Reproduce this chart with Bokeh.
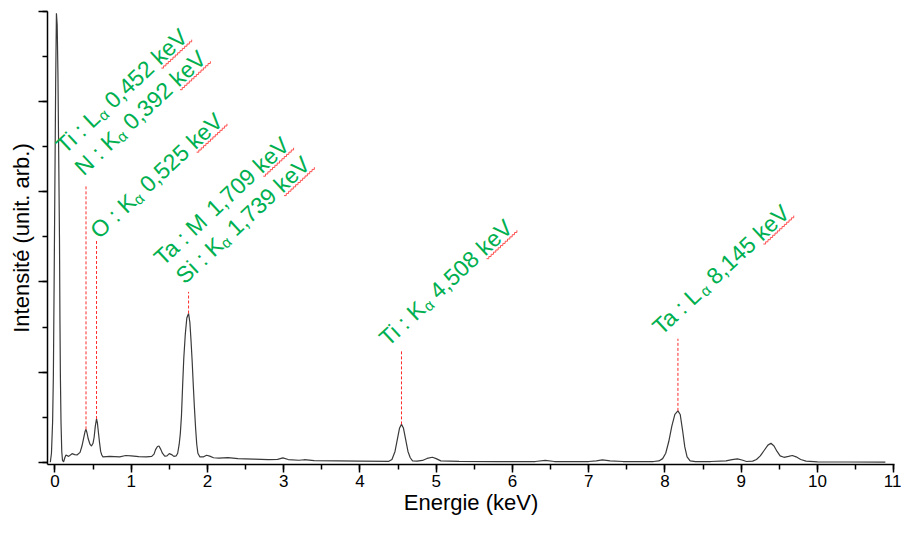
import math
from bokeh.plotting import figure
from bokeh.models import Range1d, SingleIntervalTicker, CustomJSTickFormatter
from bokeh.core.properties import value
from bokeh.embed import file_html
from bokeh.resources import INLINE

# ---- spectrum (energy in keV, intensity in arbitrary units) ----
energy = [-0.06, -0.045, -0.03, -0.02, -0.01, 0.0, 0.01, 0.02, 0.03, 0.04, 0.05, 0.06, 0.066, 0.072,
          0.08, 0.09, 0.1, 0.114, 0.13, 0.145, 0.18, 0.225, 0.26, 0.29, 0.33, 0.355, 0.375, 0.395,
          0.408, 0.42, 0.437, 0.46, 0.48, 0.5, 0.515, 0.53, 0.546, 0.557, 0.567, 0.585, 0.6, 0.615,
          0.63, 0.72, 0.85, 0.93, 1.0, 1.1, 1.2, 1.27, 1.3, 1.32, 1.345, 1.365, 1.39, 1.41, 1.44,
          1.47, 1.5, 1.53, 1.56, 1.59, 1.61, 1.63, 1.645, 1.66, 1.675, 1.69, 1.71, 1.73, 1.753,
          1.77, 1.785, 1.8, 1.815, 1.83, 1.845, 1.86, 1.875, 1.9, 1.95, 1.99, 2.03, 2.08, 2.15,
          2.27, 2.4, 2.6, 2.8, 2.92, 2.99, 3.06, 3.2, 3.27, 3.4, 3.7, 4.0, 4.38, 4.42, 4.46, 4.49,
          4.52, 4.545, 4.57, 4.6, 4.63, 4.66, 4.69, 4.75, 4.82, 4.88, 4.95, 5.0, 5.06, 5.3, 5.8,
          6.3, 6.43, 6.55, 7.0, 7.1, 7.18, 7.28, 7.45, 7.85, 7.92, 7.97, 8.01, 8.05, 8.09, 8.13,
          8.17, 8.2, 8.23, 8.26, 8.29, 8.33, 8.4, 8.6, 8.8, 8.88, 8.95, 9.01, 9.07, 9.15, 9.2,
          9.25, 9.3, 9.35, 9.39, 9.43, 9.47, 9.51, 9.56, 9.62, 9.67, 9.72, 9.78, 9.85, 10.0,
          10.4, 10.89]
intensity = [0.0, 0.1, 0.45, 0.96, 2.0, 3.1, 4.2, 4.98, 4.85, 4.3, 3.4, 2.5, 1.6, 0.96,
             0.45, 0.12, 0.02, 0.005, 0.05, 0.08, 0.065, 0.095, 0.085, 0.08, 0.11, 0.18, 0.26, 0.34,
             0.365, 0.33, 0.26, 0.2, 0.18, 0.21, 0.28, 0.4, 0.48, 0.44, 0.36, 0.22, 0.12, 0.08,
             0.06, 0.065, 0.06, 0.075, 0.07, 0.062, 0.06, 0.065, 0.09, 0.14, 0.175, 0.18, 0.14, 0.1, 0.068,
             0.07, 0.095, 0.085, 0.065, 0.07, 0.1, 0.2, 0.32, 0.52, 0.85, 1.15, 1.42, 1.6, 1.65,
             1.55, 1.35, 1.12, 0.85, 0.6, 0.38, 0.2, 0.1, 0.06, 0.06, 0.078, 0.068, 0.05, 0.045,
             0.052, 0.04, 0.035, 0.03, 0.032, 0.048, 0.03, 0.022, 0.028, 0.018, 0.015, 0.012, 0.01, 0.03, 0.12, 0.25,
             0.38, 0.42, 0.38, 0.25, 0.12, 0.05, 0.015, 0.012, 0.02, 0.042, 0.055, 0.04, 0.015, 0.01, 0.008,
             0.008, 0.02, 0.008, 0.008, 0.016, 0.026, 0.016, 0.008, 0.008, 0.015, 0.04, 0.1, 0.23, 0.4, 0.53,
             0.57, 0.53, 0.36, 0.17, 0.06, 0.015, 0.006, 0.008, 0.015, 0.03, 0.037, 0.025, 0.008, 0.012, 0.03,
             0.07, 0.13, 0.19, 0.21, 0.18, 0.12, 0.07, 0.055, 0.065, 0.075, 0.06, 0.03, 0.012, 0.005,
             0.003, 0.002]

# ---- peak markers (dashed lines from peak top up to the label) ----
marker_energy = [0.408, 0.546, 1.753, 4.545, 8.17]
marker_bottom = [0.365, 0.48, 1.65, 0.42, 0.57]
marker_top = [3.06, 2.46, 1.89, 1.25, 1.37]

# ---- peak labels: element/line prefix, subscript, energy value ----
label_prefix = ["Ti : L", "N : K", "O : K", "Ta : M", "Si : K", "Ti : K", "Ta : L"]
label_sub = ["α", "α", "α", "", "α", "α", "α"]
label_value = ["0,452 keV", "0,392 keV", "0,525 keV", "1,709 keV", "1,739 keV", "4,508 keV", "8,145 keV"]
label_energy = [0.132, 0.377, 0.582, 1.417, 1.704, 4.372, 7.953]
label_height = [3.41, 3.17, 2.467, 2.17, 1.966, 1.276, 1.40]

FONT = "Liberation Sans"
W, H = 901, 517
B_LEFT, B_RIGHT, B_TOP, B_BOTTOM = 47, 7, 11, 53
X0, X1 = -0.097, 11.01
Y0, Y1 = -0.025, 5.0
PPX = (W - B_LEFT - B_RIGHT) / (X1 - X0)
PPY = (H - B_TOP - B_BOTTOM) / (Y1 - Y0)

LABEL_SIZE = 23
SUB_SIZE = 15
SUB_DROP = 2.0
ANGLE = 43.0
CA, SA = math.cos(math.radians(ANGLE)), math.sin(math.radians(ANGLE))
# text is anchored at the middle of its line box; baseline lies (ascent - descent)/2 below it
ASC, DESC = 0.905, 0.212

# Arial / Liberation Sans advance widths (per 1000 em)
ADV = {' ': 278, ':': 278, ',': 278, 'T': 611, 'i': 222, 'L': 556, 'N': 722, 'K': 667,
       'O': 778, 'M': 833, 'S': 667, 'a': 556, 'k': 500, 'e': 556, 'V': 667, 'α': 580}
for d in "0123456789":
    ADV[d] = 556


def text_w(s, size):
    return sum(ADV[c] for c in s) / 1000.0 * size


def screen_off(along, down):
    """screen offset (px) for a point 'along' the rotated baseline and 'down' below it"""
    return along * CA + down * SA, -along * SA + down * CA


p = figure(width=W, height=H, output_backend="svg", toolbar_location=None,
           x_range=Range1d(X0, X1), y_range=Range1d(Y0, Y1),
           min_border_left=B_LEFT, min_border_right=B_RIGHT,
           min_border_top=B_TOP, min_border_bottom=B_BOTTOM)
p.outline_line_color = None
p.grid.visible = False
p.background_fill_color = "white"

p.line(energy, intensity, line_color="#3a3a3a", line_width=1.2)
p.segment(x0=marker_energy, y0=marker_bottom, x1=marker_energy, y1=marker_top,
          line_color="#ff2a2a", line_width=1, line_dash="3 2")

mid_main = -(ASC - DESC) / 2 * LABEL_SIZE   # middle of the line box, relative to baseline
mid_sub = -(ASC - DESC) / 2 * SUB_SIZE

pre_dx, pre_dy, sub_dx, sub_dy, val_dx, val_dy = [], [], [], [], [], []
wave_xs, wave_ys = [], []
for i in range(len(label_prefix)):
    a_sub = text_w(label_prefix[i], LABEL_SIZE)
    w_sub = text_w(label_sub[i], SUB_SIZE) if label_sub[i] else 0.0
    a_val = a_sub + w_sub + text_w(" ", LABEL_SIZE)
    dx, dy = screen_off(0, mid_main)
    pre_dx.append(dx); pre_dy.append(dy)
    dx, dy = screen_off(a_sub, SUB_DROP + mid_sub)
    sub_dx.append(dx); sub_dy.append(dy)
    dx, dy = screen_off(a_val, mid_main)
    val_dx.append(dx); val_dy.append(dy)
    # red wavy underline below "keV"
    num = label_value[i].split(" ")[0] + " "
    a0 = a_val + text_w(num, LABEL_SIZE) - 0.5
    a1 = a_val + text_w(label_value[i], LABEL_SIZE) + 1.5
    xs, ys = [], []
    k = 0
    t = a0
    while t <= a1:
        sx, sy = screen_off(t, 2.2 if k % 2 == 0 else 3.8)
        xs.append(label_energy[i] + sx / PPX)
        ys.append(label_height[i] - sy / PPY)
        t += 1.6
        k += 1
    wave_xs.append(xs)
    wave_ys.append(ys)

p.multi_line(wave_xs, wave_ys, line_color="#ff5050", line_width=1)

common = dict(angle=ANGLE, angle_units="deg", text_font=value(FONT), text_color="#00B050",
              text_align="left", text_baseline="middle")
p.text(x=label_energy, y=label_height, text=label_prefix, x_offset=pre_dx, y_offset=pre_dy,
       text_font_size=f"{LABEL_SIZE}px", **common)
sub_idx = [i for i in range(len(label_sub)) if label_sub[i]]
p.text(x=[label_energy[i] for i in sub_idx], y=[label_height[i] for i in sub_idx],
       text=[label_sub[i] for i in sub_idx], x_offset=[sub_dx[i] for i in sub_idx],
       y_offset=[sub_dy[i] for i in sub_idx], text_font_size=f"{SUB_SIZE}px", **common)
p.text(x=label_energy, y=label_height, text=label_value, x_offset=val_dx, y_offset=val_dy,
       text_font_size=f"{LABEL_SIZE}px", **common)

# x axis
xa = p.xaxis[0]
xa.ticker = SingleIntervalTicker(interval=1, num_minor_ticks=2)
xa.axis_label = "Energie (keV)"
xa.axis_label_text_font = FONT
xa.axis_label_text_font_size = "22px"
xa.axis_label_text_font_style = "normal"
xa.axis_label_text_color = "black"
xa.axis_label_standoff = 0
xa.major_label_text_font = FONT
xa.major_label_text_font_size = "17px"
xa.major_label_text_color = "black"
xa.major_label_standoff = 2
xa.axis_line_width = 1.5
xa.major_tick_line_width = 1.5
xa.minor_tick_line_width = 1.5
xa.major_tick_in = 0
xa.major_tick_out = 8
xa.minor_tick_in = 0
xa.minor_tick_out = 5

# y axis (no tick labels)
ya = p.yaxis[0]
ya.ticker = SingleIntervalTicker(interval=1, num_minor_ticks=2)
ya.formatter = CustomJSTickFormatter(code="return ''")
ya.axis_label = "Intensité (unit. arb.)"
ya.axis_label_text_font = FONT
ya.axis_label_text_font_size = "22px"
ya.axis_label_text_font_style = "normal"
ya.axis_label_text_color = "black"
ya.axis_label_standoff = 5
ya.major_label_standoff = 0
ya.axis_line_width = 1.5
ya.major_tick_line_width = 1.5
ya.minor_tick_line_width = 1.5
ya.major_tick_in = 0
ya.major_tick_out = 9
ya.minor_tick_in = 0
ya.minor_tick_out = 5

open("out.html", "w").write(file_html(p, INLINE))
